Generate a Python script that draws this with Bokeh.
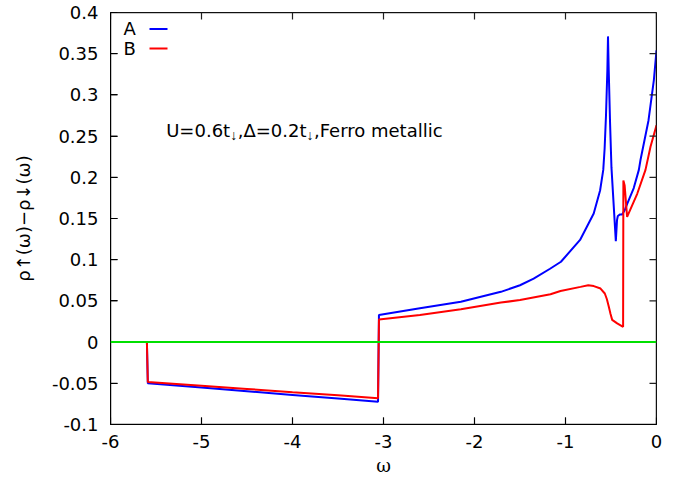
import math
from bokeh.plotting import figure
from bokeh.models import Range1d, FixedTicker, Span, Label
from bokeh.embed import file_html
from bokeh.resources import INLINE

# ---- data ----
series_names = ["A", "B"]
series_colors = ["#0000ff", "#ff0000"]

omega_a = [-6.0, -5.60, -5.59, -5.0, -4.5, -4.0, -3.5, -3.06, -3.05, -2.6, -2.15,
           -1.71, -1.5, -1.35, -1.17, -1.05, -0.84, -0.69, -0.62, -0.585, -0.57,
           -0.555, -0.54, -0.533, -0.525, -0.51, -0.495, -0.447, -0.434, -0.425,
           -0.40, -0.377, -0.35, -0.321, -0.25, -0.194, -0.176, -0.088, -0.029, 0.0]
rho_a = [0.0, 0.0, -0.050, -0.0552, -0.0596, -0.0641, -0.0685, -0.0724, 0.033, 0.041, 0.049,
         0.061, 0.069, 0.077, 0.089, 0.0975, 0.124, 0.156, 0.184, 0.209, 0.235,
         0.275, 0.33, 0.371, 0.33, 0.265, 0.212, 0.1226, 0.148, 0.153,
         0.155, 0.155, 0.160, 0.168, 0.187, 0.209, 0.221, 0.269, 0.318, 0.354]

omega_b = [-6.0, -5.60, -5.59, -5.0, -4.5, -4.0, -3.5, -3.06, -3.05, -2.6, -2.15,
           -1.71, -1.5, -1.165, -1.055, -0.835, -0.75, -0.689, -0.615, -0.568,
           -0.545, -0.524, -0.505, -0.487, -0.432, -0.367, -0.364, -0.350, -0.323,
           -0.212, -0.121, -0.066, 0.0]
rho_b = [0.0, 0.0, -0.0485, -0.0530, -0.0569, -0.0608, -0.0646, -0.068, 0.0275, 0.033, 0.040,
         0.048, 0.051, 0.058, 0.062, 0.067, 0.069, 0.068, 0.065, 0.059,
         0.052, 0.043, 0.034, 0.027, 0.0227, 0.0186, 0.196, 0.190, 0.152,
         0.180, 0.209, 0.237, 0.263]

x_ticks = [-6, -5, -4, -3, -2, -1, 0]
x_tick_labels = ["-6", "-5", "-4", "-3", "-2", "-1", "0"]
y_ticks = [-0.1, -0.05, 0, 0.05, 0.1, 0.15, 0.2, 0.25, 0.3, 0.35, 0.4]
y_tick_labels = ["-0.1", "-0.05", "0", "0.05", "0.1", "0.15", "0.2", "0.25", "0.3", "0.35", "0.4"]

X0, X1, Y0, Y1 = -6, 0, -0.1, 0.4

FONT = "DejaVu Sans"
FS = "18px"

# ---- figure ----
W, H = 689, 481
ML, MR, MT, MB = 110, 33, 12, 57
p = figure(width=W, height=H, x_range=Range1d(X0, X1), y_range=Range1d(Y0, Y1),
           output_backend="svg", toolbar_location=None,
           min_border_left=ML, min_border_right=MR, min_border_top=MT, min_border_bottom=MB)
p.background_fill_color = "white"
p.border_fill_color = "white"
p.grid.visible = False
p.outline_line_color = "black"
p.outline_line_width = 1

def style_axis(ax, ticks, labels):
    ax.ticker = FixedTicker(ticks=ticks)
    ax.major_tick_in = 7
    ax.major_tick_out = 0
    ax.minor_tick_line_color = None
    ax.axis_line_color = "black"
    ax.major_tick_line_color = "black"
    ax.major_label_overrides = {t: l for t, l in zip(ticks, labels)}
    ax.major_label_text_font = FONT
    ax.major_label_text_font_size = FS
    ax.major_label_text_color = "black"

style_axis(p.xaxis[0], x_ticks, x_tick_labels)
style_axis(p.yaxis[0], y_ticks, y_tick_labels)
p.xaxis[0].major_label_standoff = 10
p.yaxis[0].major_label_standoff = 12

# axis labels
p.xaxis[0].axis_label = "\u03c9"
p.xaxis[0].axis_label_text_font = "DejaVu Serif"
p.xaxis[0].axis_label_text_font_style = "normal"
p.xaxis[0].axis_label_text_font_size = FS
p.xaxis[0].axis_label_text_color = "black"
p.xaxis[0].axis_label_standoff = 4

p.yaxis[0].axis_label = "\u03c1\u2191(\u03c9)\u2212\u03c1\u2193(\u03c9)"
p.yaxis[0].axis_label_text_font = FONT
p.yaxis[0].axis_label_text_font_style = "normal"
p.yaxis[0].axis_label_text_font_size = FS
p.yaxis[0].axis_label_text_color = "black"
p.yaxis[0].axis_label_standoff = 15

# ---- helpers: frame pixel -> data ----
FW, FH = W - ML - MR, H - MT - MB
def px_x(px):
    return X0 + (X1 - X0) * px / FW
def px_y(py):
    return Y1 - (Y1 - Y0) * py / FH

# ---- curves ----
p.line(omega_a, rho_a, line_color=series_colors[0], line_width=2)
p.line(omega_b, rho_b, line_color=series_colors[1], line_width=2)

# zero line
p.add_layout(Span(location=0, dimension="width", line_color="#00e000", line_width=2))

# ---- legend (text left of the line sample) ----
TXT_SHIFT = 7
for i, (name, col) in enumerate(zip(series_names, series_colors)):
    base = 23 + 19.5 * i
    p.add_layout(Label(x=px_x(13), y=px_y(base - TXT_SHIFT), text=name, text_font=FONT,
                       text_font_size=FS, text_color="black",
                       text_align="left", text_baseline="alphabetic"))
    p.line([px_x(39), px_x(57)], [px_y(base - 6.5), px_y(base - 6.5)],
           line_color=col, line_width=2)

# ---- annotation with subscript arrows ----
ax0, ay0 = px_x(55.7), px_y(124.7 - TXT_SHIFT)
pieces = [("U=0.6t", 0, 0, False), ("\u2193", 64, -5, True), (",\u0394=0.2t", 71.5, 0, False),
          ("\u2193", 140.3, -5, True), (",Ferro metallic", 147.8, 0, False)]
for txt, dx, dy, sub in pieces:
    p.add_layout(Label(x=ax0, y=ay0, x_offset=dx, y_offset=dy, text=txt,
                       text_font="Liberation Sans" if sub else FONT,
                       text_font_size="14px" if sub else FS, text_color="black",
                       text_align="left", text_baseline="alphabetic"))

# ---- frame and inward ticks, added last so they sit on top ----
p.line([X0, X1, X1, X0, X0], [Y0, Y0, Y1, Y1, Y0], line_color="#202020", line_width=1.5)
tick_dy = 7 * (Y1 - Y0) / FH
tick_dx = 7 * (X1 - X0) / FW
for t in x_ticks:
    p.line([t, t], [Y0, Y0 + tick_dy], line_color="#202020", line_width=1.2)
    p.line([t, t], [Y1, Y1 - tick_dy], line_color="#202020", line_width=1.2)
for t in y_ticks:
    p.line([X0, X0 + tick_dx], [t, t], line_color="#202020", line_width=1.2)
    p.line([X1, X1 - tick_dx], [t, t], line_color="#202020", line_width=1.2)

open("out.html", "w").write(file_html(p, INLINE))
